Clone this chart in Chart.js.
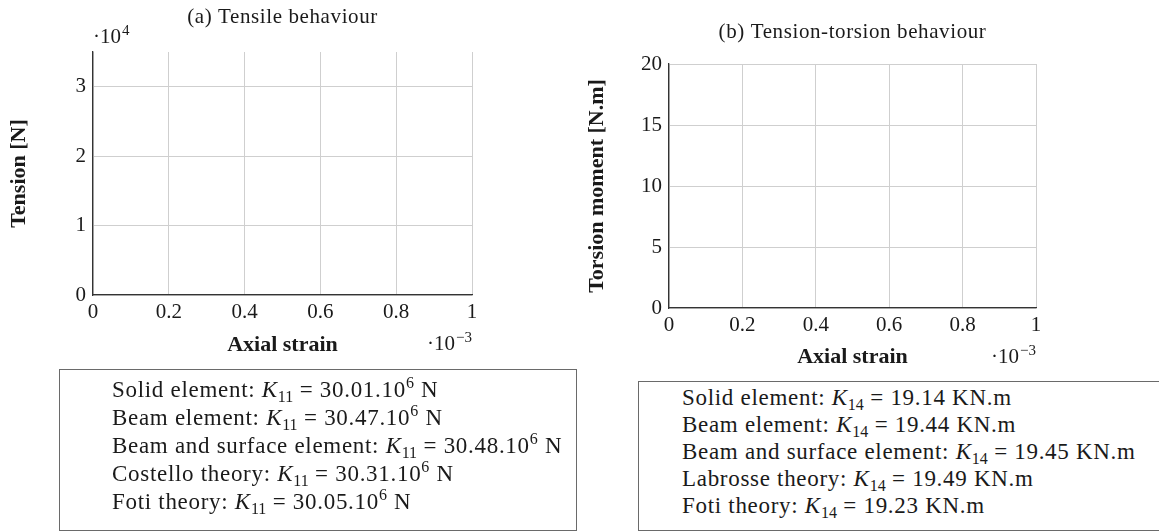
<!DOCTYPE html>
<html>
<head>
<meta charset="utf-8">
<script src="https://cdn.jsdelivr.net/npm/chart.js@4.4.1/dist/chart.umd.min.js"></script>
<style>
  body { margin: 0; width: 1159px; height: 531px; overflow: hidden; background: #fff;
         font-family: "Liberation Serif", serif; color: #1a1a1a; }
  canvas { position: absolute; }
  .legend { position: absolute; border: 1px solid #6a6a6a; box-sizing: border-box; }
  .legend div { position: absolute; white-space: nowrap; font-size: 23px; letter-spacing: 0.7px; line-height: 26px; }
  .legend sub { font-size: 16px; vertical-align: -5px; line-height: 0; letter-spacing: 0; }
  .legend sup { font-size: 16px; vertical-align: 9px; line-height: 0; }
</style>
</head>
<body>
<canvas id="tensile"></canvas>
<canvas id="torsion"></canvas>
<div class="legend" id="legend-tensile"></div>
<div class="legend" id="legend-torsion"></div>

<script>
// axis ticks (strain in 1e-3, tension in 1e4 N, moment in N.m)
const strainTicks = [0, 0.2, 0.4, 0.6, 0.8, 1];
const tensionTicks = [0, 1, 2, 3];
const momentTicks = [0, 5, 10, 15, 20];

// stiffness results listed under each plot
const tensileModels = ["Solid element", "Beam element", "Beam and surface element", "Costello theory", "Foti theory"];
const tensileK11 = [30.01, 30.47, 30.48, 30.31, 30.05];
const torsionModels = ["Solid element", "Beam element", "Beam and surface element", "Labrosse theory", "Foti theory"];
const torsionK14 = [19.14, 19.44, 19.45, 19.49, 19.23];

// curves (none plotted)
const tensileCurves = tensileModels.map(name => ({ label: name, data: [] }));
const torsionCurves = torsionModels.map(name => ({ label: name, data: [] }));

const SERIF = '"Liberation Serif", serif';
const INK = "#1a1a1a";
const GRID = "#cfcfcf";
const AXIS = "#333333";

function drawPower(ctx, base, exp, x, y, align) {
  ctx.save();
  ctx.fillStyle = INK;
  ctx.textAlign = "left";
  ctx.textBaseline = "alphabetic";
  ctx.font = `21px ${SERIF}`;
  const bw = ctx.measureText(base).width;
  ctx.font = `15px ${SERIF}`;
  const ew = ctx.measureText(exp).width;
  const x0 = align === "right" ? x - bw - ew - 1 : x;
  ctx.font = `21px ${SERIF}`;
  ctx.fillText(base, x0, y);
  ctx.font = `15px ${SERIF}`;
  ctx.fillText(exp, x0 + bw + 1, y - 8);
  ctx.restore();
}

// plot title and the axis multipliers
const annotations = {
  id: "annotations",
  afterDraw(chart, args, opts) {
    const { ctx, chartArea } = chart;
    ctx.save();
    ctx.fillStyle = INK;
    ctx.font = `21px ${SERIF}`;
    ctx.letterSpacing = "0.6px";
    ctx.textAlign = "center";
    ctx.textBaseline = "middle";
    ctx.fillText(opts.title, (chartArea.left + chartArea.right) / 2, opts.titleY);
    ctx.restore();
    if (opts.yPower) drawPower(ctx, "\u00b710", opts.yPower, chartArea.left, chartArea.top - 9, "left");
    drawPower(ctx, "\u00b710", opts.xPower, chartArea.right, chartArea.bottom + 55, "right");
  }
};

function makeChart(id, box, cfg) {
  const canvas = document.getElementById(id);
  canvas.style.left = box.x + "px";
  canvas.style.top = box.y + "px";
  canvas.width = box.w;
  canvas.height = box.h;
  const titleFont = { family: SERIF, size: 22, weight: "bold" };
  const tickFont = { family: SERIF, size: 21 };
  return new Chart(canvas, {
    type: "scatter",
    data: { datasets: cfg.datasets },
    options: {
      responsive: false,
      animation: false,
      events: [],
      layout: { padding: cfg.padding },
      plugins: {
        legend: { display: false },
        tooltip: { enabled: false },
        annotations: cfg.notes
      },
      scales: {
        x: {
          type: "linear",
          min: 0,
          max: 1,
          afterBuildTicks: s => { s.ticks = strainTicks.map(v => ({ value: v })); },
          afterFit: s => { s.height = cfg.xHeight; },
          ticks: { font: tickFont, color: INK, padding: 5, maxRotation: 0,
                   callback: v => String(+v.toFixed(1)) },
          grid: { color: GRID, drawTicks: false },
          border: { color: AXIS, width: 1.3 },
          title: { display: true, text: "Axial strain", font: titleFont, color: INK,
                   padding: { top: 0, bottom: cfg.xTitlePad } }
        },
        y: {
          type: "linear",
          min: 0,
          max: cfg.yMax,
          afterBuildTicks: s => { s.ticks = cfg.yTicks.map(v => ({ value: v })); },
          afterFit: s => { s.width = cfg.yWidth; },
          ticks: { font: tickFont, color: INK, padding: 7 },
          grid: { color: GRID, drawTicks: false },
          border: { color: AXIS, width: 1.3 },
          title: { display: true, text: cfg.yTitle, font: titleFont, color: INK,
                   padding: { top: cfg.yTitlePad, bottom: 0 } }
        }
      }
    },
    plugins: [annotations]
  });
}

makeChart("tensile", { x: 0, y: 0, w: 580, h: 370 }, {
  datasets: tensileCurves,
  padding: { left: 0, top: 52, right: 108, bottom: 5 },
  xHeight: 70, xTitlePad: 6.8,
  yWidth: 93, yTitlePad: 5.8,
  yMax: 3.5, yTicks: tensionTicks, yTitle: "Tension [N]",
  notes: { title: "(a) Tensile behaviour", titleY: 17, yPower: "4", xPower: "\u22123" }
});

makeChart("torsion", { x: 580, y: 0, w: 579, h: 380 }, {
  datasets: torsionCurves,
  padding: { left: 0, top: 64, right: 123, bottom: 5 },
  xHeight: 67, xTitlePad: 4.8,
  yWidth: 89, yTitlePad: 3.8,
  yMax: 20, yTicks: momentTicks, yTitle: "Torsion moment [N.m]",
  notes: { title: "(b) Tension-torsion behaviour", titleY: 32, xPower: "\u22123" }
});

// legend boxes with the stiffness values
function buildLegend(id, box, textLeft, firstLine, step, models, values, entry) {
  const el = document.getElementById(id);
  el.style.left = box.x + "px";
  el.style.top = box.y + "px";
  el.style.width = box.w + "px";
  el.style.height = box.h + "px";
  models.forEach((name, i) => {
    const row = document.createElement("div");
    row.style.left = (textLeft - box.x) + "px";
    row.style.top = (firstLine + i * step - box.y - 13) + "px";
    row.innerHTML = entry(name, values[i]);
    el.appendChild(row);
  });
}

buildLegend("legend-tensile", { x: 59, y: 369, w: 518, h: 162 }, 111, 389, 28,
  tensileModels, tensileK11,
  (name, k) => `${name}: <i>K</i><sub>11</sub> = ${k.toFixed(2)}.10<sup>6</sup> N`);

buildLegend("legend-torsion", { x: 638, y: 381, w: 530, h: 150 }, 681, 397, 27,
  torsionModels, torsionK14,
  (name, k) => `${name}: <i>K</i><sub>14</sub> = ${k.toFixed(2)} KN.m`);
</script>
</body>
</html>
